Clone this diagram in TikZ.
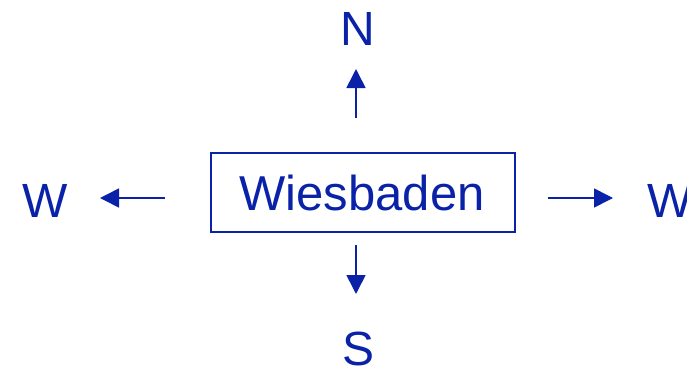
\documentclass[tikz,border=0pt]{standalone}
\usepackage{fontspec}
\setmainfont{Liberation Sans}
\usetikzlibrary{arrows.meta}
\definecolor{navy}{RGB}{10,34,168}
\begin{document}
\begin{tikzpicture}[x=1pt,y=-1pt,
  lbl/.style={text=navy,font=\fontsize{48}{50}\selectfont,anchor=base,inner sep=0pt},
  arr/.style={draw=navy,line width=1.6pt,-{Triangle[length=19pt,width=19pt]}}]
\useasboundingbox (0,0) rectangle (687,367);
\node[draw=navy,line width=2pt,minimum width=304pt,minimum height=79pt,inner sep=0pt] (box) at (363,192.5) {};
\node[lbl,font=\fontsize{49}{51}\selectfont] (city) at (362,210) {Wiesbaden};
\node[lbl] (n) at (357.5,45) {N};
\node[lbl] (wl) at (45.5,217) {W};
\node[lbl] (wr) at (670,217) {W};
\node[lbl] (s) at (359,365) {S};
\coordinate (nt) at (356,118); \coordinate (nh) at (356,69);
\coordinate (lt) at (165,198); \coordinate (lh) at (100,198);
\coordinate (rt) at (548,198); \coordinate (rh) at (613,198);
\coordinate (st) at (356,245); \coordinate (sh) at (356,294);
\draw[arr] (nt) -- (nh);
\draw[arr] (lt) -- (lh);
\draw[arr] (rt) -- (rh);
\draw[arr] (st) -- (sh);
\end{tikzpicture}
\end{document}
